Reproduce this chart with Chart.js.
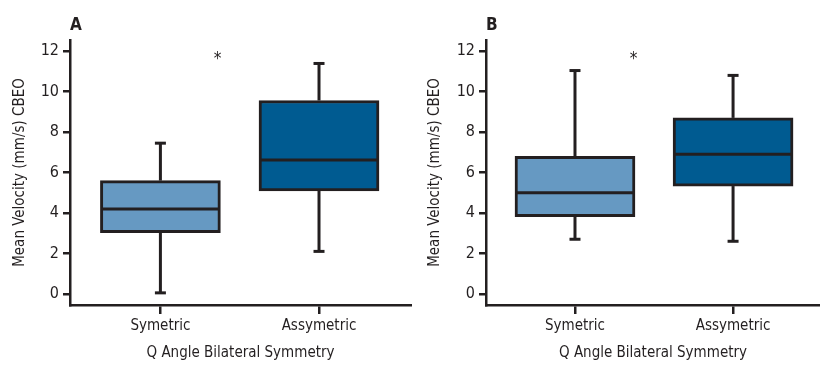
<!DOCTYPE html>
<html lang="en">
<head>
  <meta charset="UTF-8">
  <title>Q angle bilateral symmetry - box plots</title>
  <style>
    body { margin: 0; background: #fff; }
    .wrap { position: relative; width: 820px; height: 365px; overflow: hidden; }
    .panel { position: absolute; top: 0; height: 365px; }
    .tag {
      position: absolute; top: 14px;
      font: bold 17px 'Liberation Sans Narrow', 'DejaVu Sans Condensed', sans-serif;
      color: #231f20;
    }
  </style>
</head>
<body>
  <div class="wrap">
    <div class="panel" style="left:0;width:412px"><canvas id="chartA"></canvas></div>
    <div class="panel" style="left:410px;width:410px"><canvas id="chartB"></canvas></div>
    <div class="tag" style="left:70px">A</div>
    <div class="tag" style="left:486px">B</div>
  </div>

  <script src="https://cdn.jsdelivr.net/npm/chart.js@4.4.0/dist/chart.umd.min.js"></script>
  <script>
    // categories and axis ticks
    const categories = ["Symetric", "Assymetric"];
    const yTicks = [0, 2, 4, 6, 8, 10, 12];

    // panel A
    const aLow    = [0.05, 2.1];
    const aQ1     = [3.03, 5.09];
    const aMedian = [4.2, 6.62];
    const aQ3     = [5.6, 9.56];
    const aHigh   = [7.45, 11.39];
    const aStar   = [1.36, 11.7];

    // panel B
    const bLow    = [2.7, 2.6];
    const bQ1     = [3.82, 5.33];
    const bMedian = [5.0, 6.9];
    const bQ3     = [6.8, 8.7];
    const bHigh   = [11.04, 10.8];
    const bStar   = [1.37, 11.7];

    const ink = "#231f20";
    const boxColors = ["#6699c2", "#005b91"];
    const fontFamily = "'Liberation Sans Narrow', 'DejaVu Sans Condensed', sans-serif";
    const fontSize = 15;

    // whiskers, caps, median line and the asterisk
    function boxPlugin(p) {
      return {
        id: "boxExtras",
        afterDatasetsDraw(chart) {
          const { ctx, scales: { x, y } } = chart;
          const bars = chart.getDatasetMeta(0).data;
          ctx.save();
          ctx.strokeStyle = ink;
          ctx.lineWidth = 3;
          ctx.lineCap = "butt";
          const seg = (x1, y1, x2, y2) => {
            ctx.beginPath(); ctx.moveTo(x1, y1); ctx.lineTo(x2, y2); ctx.stroke();
          };
          p.median.forEach((m, i) => {
            const cx = x.getPixelForValue(i + 1);
            const half = bars[i].width / 2;
            const yHi = y.getPixelForValue(p.high[i]);
            const yLo = y.getPixelForValue(p.low[i]);
            seg(cx, y.getPixelForValue(p.q3[i]), cx, yHi);
            seg(cx, y.getPixelForValue(p.q1[i]), cx, yLo);
            seg(cx - 5.5, yHi, cx + 5.5, yHi);
            seg(cx - 5.5, yLo, cx + 5.5, yLo);
            const ym = y.getPixelForValue(m);
            seg(cx - half + 2, ym, cx + half - 2, ym);
          });
          ctx.fillStyle = ink;
          ctx.font = "17px " + fontFamily;
          ctx.textAlign = "center";
          ctx.textBaseline = "middle";
          ctx.fillText("*", x.getPixelForValue(p.star[0]), y.getPixelForValue(p.star[1]) + 2);
          ctx.restore();
        }
      };
    }

    function makeChart(id, p, xMin, xMax, yAxisWidth, yTitlePad, padRight) {
      return new Chart(document.getElementById(id), {
        type: "bar",
        data: {
          datasets: [{
            data: p.q1.map((q, i) => ({ x: i + 1, y: [q, p.q3[i]] })),
            backgroundColor: boxColors,
            borderColor: ink,
            borderWidth: 3,
            borderSkipped: false,
            barThickness: 120
          }]
        },
        options: {
          responsive: true,
          maintainAspectRatio: false,
          animation: false,
          layout: { padding: { top: 40, right: padRight, left: 0, bottom: 0 } },
          plugins: { legend: { display: false }, tooltip: { enabled: false } },
          scales: {
            x: {
              type: "linear",
              min: xMin,
              max: xMax,
              offset: false,
              afterBuildTicks: s => { s.ticks = categories.map((c, i) => ({ value: i + 1 })); },
              afterFit: s => { s.height = 60; },
              ticks: {
                callback: v => categories[v - 1],
                color: ink,
                padding: 3,
                font: { family: fontFamily, size: fontSize }
              },
              grid: { display: true, offset: false, drawOnChartArea: false, drawTicks: true, tickLength: 9, color: ink, lineWidth: 2.5 },
              border: { display: true, color: ink, width: 2.5 },
              title: {
                display: true,
                text: "Q Angle Bilateral Symmetry",
                color: ink,
                font: { family: fontFamily, size: fontSize },
                padding: { top: 0, bottom: 3 }
              }
            },
            y: {
              min: -0.55,
              max: 12.55,
              afterBuildTicks: s => { s.ticks = yTicks.map(v => ({ value: v })); },
              afterFit: s => { s.width = yAxisWidth; },
              ticks: {
                color: ink,
                padding: 4,
                font: { family: fontFamily, size: fontSize + 1 }
              },
              grid: { display: true, drawOnChartArea: false, drawTicks: true, tickLength: 7, color: ink, lineWidth: 2.5 },
              border: { display: true, color: ink, width: 2.5 },
              title: {
                display: true,
                text: "Mean Velocity (mm/s) CBEO",
                color: ink,
                font: { family: fontFamily, size: fontSize },
                padding: { top: yTitlePad, bottom: 0 }
              }
            }
          }
        },
        plugins: [boxPlugin(p)]
      });
    }

    makeChart("chartA",
      { low: aLow, q1: aQ1, median: aMedian, q3: aQ3, high: aHigh, star: aStar },
      0.43, 2.58, 70, 11, 1);
    makeChart("chartB",
      { low: bLow, q1: bQ1, median: bMedian, q3: bQ3, high: bHigh, star: bStar },
      0.437, 2.55, 76, 16, 0);
  </script>
</body>
</html>
